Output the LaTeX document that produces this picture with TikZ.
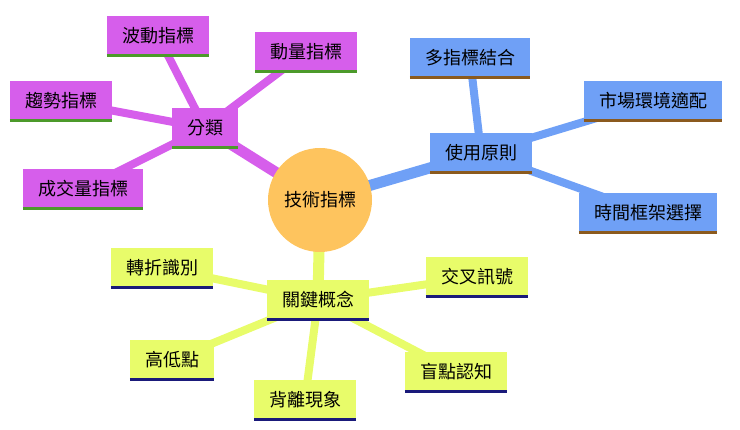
\documentclass[tikz,border=0pt]{standalone}
\usepackage{fontspec}
\newfontfamily\cjk{Noto Sans CJK TC}
\definecolor{cpur}{HTML}{D65EEB}
\definecolor{cblu}{HTML}{6FA0F6}
\definecolor{cyel}{HTML}{E8FC6A}
\definecolor{ccen}{HTML}{FEC45E}
\definecolor{ugrn}{HTML}{4C9A2A}
\definecolor{ubrn}{HTML}{8B5A1E}
\definecolor{unav}{HTML}{1A1A7A}
\pgfdeclarelayer{bg}
\pgfsetlayers{bg,main}
\tikzset{
 box/.style={rectangle,inner xsep=15pt,inner ysep=0pt,minimum height=39pt,font=\cjk\fontsize{18}{21}\selectfont,text=black},
 pbox/.style={box,fill=cpur},
 bbox/.style={box,fill=cblu},
 ybox/.style={box,fill=cyel},
 pe/.style={cpur,line cap=round},
 be/.style={cblu,line cap=round},
 ye/.style={cyel,line cap=round},
}
\begin{document}
\begin{tikzpicture}[x=1pt,y=-1pt]
\useasboundingbox (0,0) rectangle (740,430);
\node[circle,fill=ccen,minimum size=104pt,font=\cjk\fontsize{18}{21}\selectfont] (c) at (320,200) {技術指標};
\node[pbox] (p) at (205,128) {分類};
\node[pbox] (p1) at (158,36) {波動指標};
\node[pbox] (p2) at (306,52) {動量指標};
\node[pbox] (p3) at (61,101) {趨勢指標};
\node[pbox] (p4) at (83,189) {成交量指標};
\node[bbox] (b) at (481,153) {使用原則};
\node[bbox] (b1) at (470,58) {多指標結合};
\node[bbox] (b2) at (653,101) {市場環境適配};
\node[bbox] (b3) at (648,213) {時間框架選擇};
\node[ybox] (y) at (318,300) {關鍵概念};
\node[ybox] (y1) at (162,268) {轉折識別};
\node[ybox] (y2) at (477,277) {交叉訊號};
\node[ybox] (y3) at (172,360) {高低點};
\node[ybox] (y4) at (305,400) {背離現象};
\node[ybox] (y5) at (456,372) {盲點認知};
\begin{pgfonlayer}{bg}
\draw[pe,line width=11pt] (c.center) -- (p.center);
\foreach \n in {p1,p2,p3,p4} \draw[pe,line width=8pt] (p.center) -- (\n.center);
\draw[be,line width=11pt] (c.center) -- (b.center);
\foreach \n in {b1,b2,b3} \draw[be,line width=8pt] (b.center) -- (\n.center);
\draw[ye,line width=11pt] (c.center) -- (y.center);
\foreach \n in {y1,y2,y3,y4,y5} \draw[ye,line width=8pt] (y.center) -- (\n.center);
\end{pgfonlayer}
\foreach \n in {p,p1,p2,p3,p4} \draw[ugrn,line width=2.5pt] (\n.south west) -- (\n.south east);
\foreach \n in {b,b1,b2,b3} \draw[ubrn,line width=2.5pt] (\n.south west) -- (\n.south east);
\foreach \n in {y,y1,y2,y3,y4,y5} \draw[unav,line width=2.5pt] (\n.south west) -- (\n.south east);
\end{tikzpicture}
\end{document}
